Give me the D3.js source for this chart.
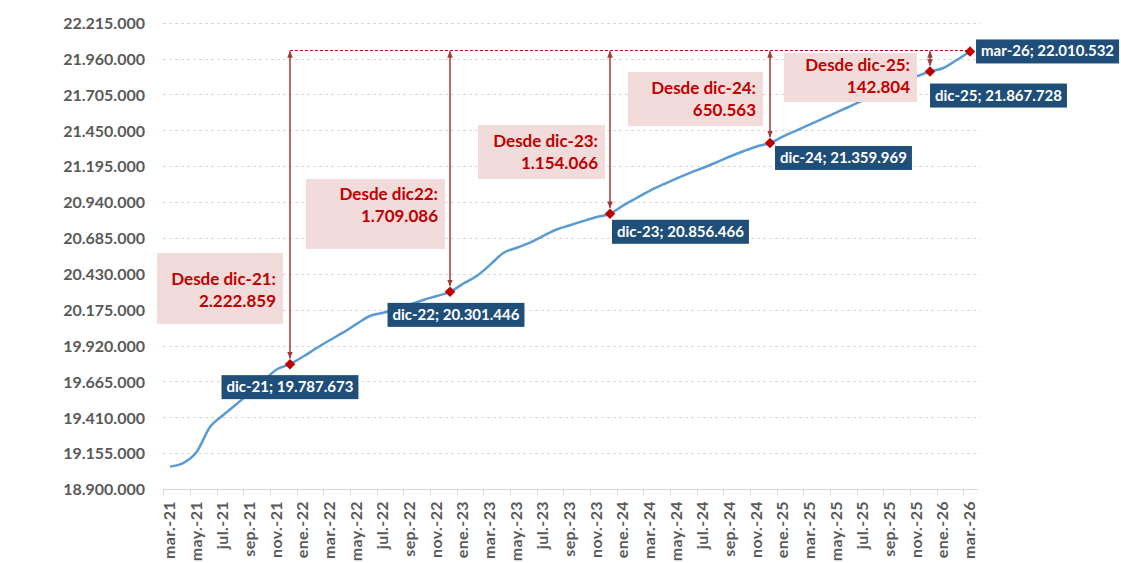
<!DOCTYPE html>
<html lang="es">
<head>
  <meta charset="utf-8">
  <title>Afiliación</title>
  <script src="https://d3js.org/d3.v7.min.js"></script>
  <style>
    body { margin: 0; background: #fff; }
    #chart text { font-family: Lato, "Open Sans", sans-serif; font-weight: bold; }
    .axis-y text { fill: #595959; font-size: 16px; }
    .axis-x text { fill: #595959; font-size: 16px; letter-spacing: 0.4px; }
    .grid line { stroke: #d9d9d9; stroke-dasharray: 3,3; }
  </style>
</head>
<body>
  <div id="chart"></div>

  <script>
    "use strict"

    // meses (eje X)
    var meses = [
      "mar.-21","abr.-21","may.-21","jun.-21","jul.-21","ago.-21","sep.-21","oct.-21","nov.-21","dic.-21",
      "ene.-22","feb.-22","mar.-22","abr.-22","may.-22","jun.-22","jul.-22","ago.-22","sep.-22","oct.-22","nov.-22","dic.-22",
      "ene.-23","feb.-23","mar.-23","abr.-23","may.-23","jun.-23","jul.-23","ago.-23","sep.-23","oct.-23","nov.-23","dic.-23",
      "ene.-24","feb.-24","mar.-24","abr.-24","may.-24","jun.-24","jul.-24","ago.-24","sep.-24","oct.-24","nov.-24","dic.-24",
      "ene.-25","feb.-25","mar.-25","abr.-25","may.-25","jun.-25","jul.-25","ago.-25","sep.-25","oct.-25","nov.-25","dic.-25",
      "ene.-26","feb.-26","mar.-26"
    ];

    // afiliados (valor mensual)
    var valores = [
      19059000, 19085000, 19163000, 19341000, 19426000, 19504000, 19586000, 19668000, 19750000, 19787673,
      19842000, 19902000, 19959000, 20013000, 20074000, 20130000, 20153000, 20180000, 20212000, 20244000, 20272000, 20301446,
      20360000, 20414000, 20493000, 20578000, 20615000, 20652000, 20700000, 20745000, 20775000, 20805000, 20834000, 20856466,
      20916000, 20969000, 21022000, 21065000, 21108000, 21148000, 21184000, 21223000, 21264000, 21301000, 21335000, 21359969,
      21407000, 21449000, 21492000, 21535000, 21578000, 21620000, 21664000, 21707000, 21749000, 21791000, 21833000, 21867728,
      21893000, 21950000, 22010532
    ];

    // puntos destacados
    var destacados = ["dic.-21", "dic.-22", "dic.-23", "dic.-24", "dic.-25", "mar.-26"];
    var etiquetasDestacados = ["dic-21", "dic-22", "dic-23", "dic-24", "dic-25", "mar-26"];
    var textosDesde = ["Desde dic-21:", "Desde dic22:", "Desde dic-23:", "Desde dic-24:", "Desde dic-25:"];

    // eje Y
    var yTicks = [18900000, 19155000, 19410000, 19665000, 19920000, 20175000, 20430000,
                  20685000, 20940000, 21195000, 21450000, 21705000, 21960000, 22215000];

    // layout de las etiquetas (pixeles)
    var posEtiquetas = [
      { dx: -68, dy: 11 }, { dx: -68, dy: 11 }, { dx: 2, dy: 6 },
      { dx: 5, dy: 3 }, { dx: 0, dy: 12 }, { dx: 6, dy: -12 }
    ];
    var cajasDesde = [
      { x0: 157, y0: 253, x1: 283, y1: 324, t: 32 },
      { x0: 306, y0: 179, x1: 445, y1: 249, t: 21 },
      { x0: 478, y0: 125, x1: 605, y1: 179, t: 22 },
      { x0: 628, y0: 72, x1: 763, y1: 126, t: 22 },
      { x0: 784, y0: 53, x1: 917, y1: 102, t: 18 }
    ];

    var width = 1121, height = 563;
    var fmt = d3.formatLocale({ decimal: ",", thousands: ".", grouping: [3], currency: ["", ""] }).format(",d");

    var svg = d3.select("#chart").append("svg")
      .attr("width", width).attr("height", height);

    var defs = svg.append("defs");
    defs.append("marker").attr("id", "flecha")
      .attr("viewBox", "0 0 10 10").attr("refX", 9).attr("refY", 5)
      .attr("markerWidth", 7).attr("markerHeight", 7).attr("orient", "auto-start-reverse")
      .attr("markerUnits", "userSpaceOnUse")
      .append("path").attr("d", "M0,1 L10,5 L0,9 z").attr("fill", "#a33a3a");

    var x = d3.scaleBand().domain(meses).range([163.3, 976.7]);
    var xc = m => x(m) + x.bandwidth() / 2;
    var y = d3.scaleLinear().domain([18900000, 22215000]).range([489, 22.7]);

    var datos = meses.map((m, i) => ({ mes: m, valor: valores[i] }));

    // rejilla
    svg.append("g").attr("class", "grid")
      .selectAll("line").data(yTicks.slice(1)).enter().append("line")
        .attr("x1", 163).attr("x2", 980)
        .attr("y1", d => Math.round(y(d)) + 0.5).attr("y2", d => Math.round(y(d)) + 0.5);

    // eje Y
    svg.append("g").attr("class", "axis-y")
      .attr("transform", "translate(145,0)")
      .call(d3.axisLeft(y).tickValues(yTicks).tickFormat(fmt).tickSize(0).tickPadding(0))
      .call(g => g.select(".domain").remove())
      .selectAll("text").attr("dy", "0.36em");

    // eje X
    var ejeX = svg.append("g").attr("class", "axis-x");
    ejeX.append("line").attr("x1", 163.3).attr("x2", 978).attr("y1", 489.5).attr("y2", 489.5)
      .attr("stroke", "#d9d9d9");
    var mesesTick = meses.filter((m, i) => i % 2 === 0);
    ejeX.selectAll("line.tick").data(mesesTick).enter().append("line")
      .attr("class", "tick")
      .attr("x1", d => Math.round(x(d)) + 0.5).attr("x2", d => Math.round(x(d)) + 0.5)
      .attr("y1", 489.5).attr("y2", 495.5).attr("stroke", "#d9d9d9");
    ejeX.selectAll("text").data(mesesTick).enter().append("text")
      .attr("transform", d => "translate(" + (xc(d) + 5) + ",501) rotate(-90)")
      .attr("text-anchor", "end")
      .text(d => d);

    // línea
    var linea = d3.line().x(d => xc(d.mes)).y(d => y(d.valor)).curve(d3.curveMonotoneX);
    svg.append("path").datum(datos)
      .attr("d", linea).attr("fill", "none")
      .attr("stroke", "#5b9bd5").attr("stroke-width", 2.5);

    var puntos = destacados.map(m => datos[meses.indexOf(m)]);
    var ultimo = puntos[puntos.length - 1];
    var yTope = Math.round(y(ultimo.valor)) - 0.5;

    // cajas "Desde"
    cajasDesde.forEach((c, i) => {
      var g = svg.append("g");
      g.append("rect").attr("x", c.x0).attr("y", c.y0)
        .attr("width", c.x1 - c.x0).attr("height", c.y1 - c.y0)
        .attr("fill", "#f2dcdb");
      g.append("text").attr("x", c.x1 - 7).attr("y", c.y0 + c.t)
        .attr("text-anchor", "end").attr("fill", "#c00000").attr("font-size", "17px")
        .text(textosDesde[i]);
      g.append("text").attr("x", c.x1 - 7).attr("y", c.y0 + c.t + 22)
        .attr("text-anchor", "end").attr("fill", "#c00000").attr("font-size", "17px")
        .text(fmt(ultimo.valor - puntos[i].valor));
    });

    // linea horizontal punteada
    svg.append("line")
      .attr("x1", xc(puntos[0].mes)).attr("x2", xc(ultimo.mes))
      .attr("y1", yTope).attr("y2", yTope)
      .attr("stroke", "#d00000").attr("stroke-width", 1).attr("stroke-dasharray", "3,2");

    // flechas
    svg.selectAll("line.flecha").data(puntos.slice(0, -1)).enter().append("line")
      .attr("class", "flecha")
      .attr("x1", d => xc(d.mes)).attr("x2", d => xc(d.mes))
      .attr("y1", yTope + 1).attr("y2", d => y(d.valor) - 6)
      .attr("stroke", "#a33a3a").attr("stroke-width", 1.5)
      .attr("marker-start", "url(#flecha)").attr("marker-end", "url(#flecha)");

    // marcadores
    svg.selectAll("path.marca").data(puntos).enter().append("path")
      .attr("class", "marca")
      .attr("d", d3.symbol().type(d3.symbolSquare).size(55))
      .attr("transform", d => "translate(" + xc(d.mes) + "," + y(d.valor) + ") rotate(45)")
      .attr("fill", "#c00000");

    // etiquetas de datos
    puntos.forEach((p, i) => {
      var g = svg.append("g");
      var t = g.append("text").attr("fill", "#fff").attr("font-size", "15px")
        .text(etiquetasDestacados[i] + "; " + fmt(p.valor));
      var w = t.node().getComputedTextLength() + 10;
      var bx = xc(p.mes) + posEtiquetas[i].dx;
      if (i < 2) bx = xc(p.mes) - w / 2 + (i === 1 ? 6 : 0);
      var by = y(p.valor) + posEtiquetas[i].dy;
      g.insert("rect", "text").attr("x", bx).attr("y", by).attr("width", w).attr("height", 24)
        .attr("fill", "#1f4e79");
      t.attr("x", bx + 5).attr("y", by + 17);
    });
  </script>
</body>
</html>
